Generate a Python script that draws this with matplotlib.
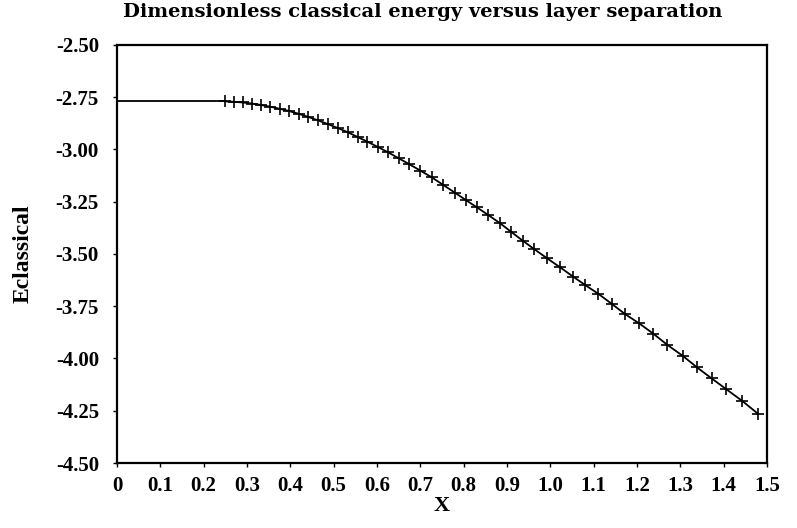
import matplotlib
matplotlib.use("Agg")
import matplotlib.pyplot as plt

# flat part (no markers)
x_flat = [0.0, 0.25]
y_flat = [-2.770, -2.770]

# sampled points with markers
x_pts = [0.250, 0.270, 0.290, 0.311, 0.332, 0.353, 0.375, 0.397, 0.419, 0.441,
         0.463, 0.486, 0.509, 0.532, 0.555, 0.578, 0.602, 0.626, 0.650, 0.674,
         0.700, 0.727,
         0.753, 0.780, 0.805, 0.830, 0.857, 0.884, 0.909, 0.936, 0.963, 0.992,
         1.022, 1.053, 1.080, 1.111, 1.142, 1.172, 1.205, 1.238, 1.270, 1.306,
         1.338, 1.372, 1.406, 1.442, 1.479]
y_pts = [-2.770, -2.772, -2.775, -2.780, -2.787, -2.795, -2.805, -2.816, -2.829, -2.844,
         -2.860, -2.878, -2.897, -2.917, -2.940, -2.963, -2.988, -3.014, -3.042, -3.070,
         -3.101, -3.134,
         -3.170, -3.207, -3.242, -3.276, -3.314, -3.353, -3.393, -3.436, -3.477, -3.520,
         -3.563, -3.609, -3.648, -3.691, -3.739, -3.787, -3.832, -3.882, -3.935, -3.988,
         -4.042, -4.095, -4.147, -4.202, -4.264]

x_ticks = [0, 0.1, 0.2, 0.3, 0.4, 0.5, 0.6, 0.7, 0.8, 0.9, 1.0, 1.1, 1.2, 1.3, 1.4, 1.5]
x_labels = ["0", "0.1", "0.2", "0.3", "0.4", "0.5", "0.6", "0.7", "0.8", "0.9",
            "1.0", "1.1", "1.2", "1.3", "1.4", "1.5"]
y_ticks = [-4.50, -4.25, -4.00, -3.75, -3.50, -3.25, -3.00, -2.75, -2.50]
y_labels = ["-4.50", "-4.25", "-4.00", "-3.75", "-3.50", "-3.25", "-3.00", "-2.75", "-2.50"]

title = "Dimensionless classical energy versus layer separation"
xlabel = "X"
ylabel = "Eclassical"

plt.rcParams['font.family'] = ['Liberation Serif', 'DejaVu Serif']

fig = plt.figure(figsize=(7.97, 5.28), dpi=100)
ax = fig.add_axes([0.1468, 0.1231, 0.9624 - 0.1468, 0.9148 - 0.1231])

ax.plot(x_flat, y_flat, color='black', lw=1.3)
ax.plot(x_pts, y_pts, color='black', lw=1.3, marker='+', markersize=8, markeredgewidth=1.2)

ax.set_xlim(0, 1.5)
ax.set_ylim(-4.5, -2.5)
ax.set_xticks(x_ticks)
ax.set_xticklabels(x_labels, fontsize=15, fontweight='bold')
ax.set_yticks(y_ticks)
ax.set_yticklabels(y_labels, fontsize=15, fontweight='bold')
ax.tick_params(axis='x', direction='out', length=3, width=1, pad=6)
ax.tick_params(axis='y', direction='out', length=3, width=1, pad=10)
for s in ax.spines.values():
    s.set_linewidth(1.6)

ax.set_title(title, fontsize=14, fontweight='bold', pad=20, x=0.47, family=['DejaVu Serif'])
ax.set_xlabel(xlabel, fontsize=16, fontweight='bold', labelpad=0)
ax.set_ylabel(ylabel, fontsize=17, fontweight='bold', labelpad=16)

fig.savefig("out.png", dpi=100)
